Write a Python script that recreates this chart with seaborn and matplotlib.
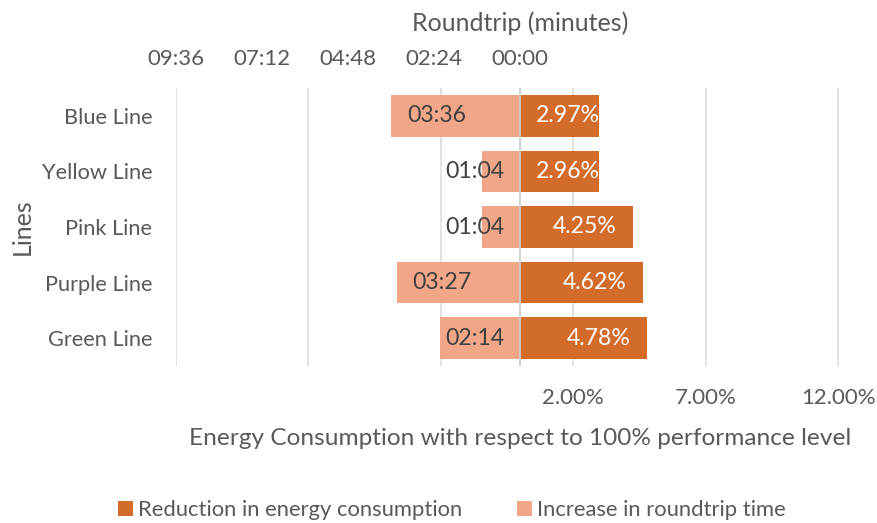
import matplotlib
matplotlib.use("Agg")
import matplotlib.pyplot as plt
from matplotlib.patches import Patch
import seaborn as sns
import pandas as pd

# ---------------- data ----------------
lines = ["Blue Line", "Yellow Line", "Pink Line", "Purple Line", "Green Line"]
energy_reduction_pct = [2.97, 2.96, 4.25, 4.62, 4.78]
roundtrip_increase_sec = [216, 64, 64, 207, 134]
energy_ticks = [-13, -8, -3, 2, 7, 12]
energy_tick_labels = ["", "", "", "2.00%", "7.00%", "12.00%"]
time_ticks_sec = [0, 144, 288, 432, 576]
time_tick_labels = ["00:00", "02:24", "04:48", "07:12", "09:36"]
series_names = ["Reduction in energy consumption", "Increase in roundtrip time"]

# ---------------- style ----------------
DARK = "#D36B2B"
LIGHT = "#F1A687"
GRID = "#D9D9D9"
AXLINE = "#CFCFCF"
TXT = "#595959"
LBL = "#404040"
FS_TITLE = 18
FS_XLAB = 17.6
FS_CAT = 15.7
FS_LEG = 15.8
FS_NUM = 16
FS_DATA = 16.6

sns.set_theme(style="white")
plt.rcParams["font.family"] = ["Lato", "DejaVu Sans"]

df = pd.DataFrame({"line": lines,
                   "energy": energy_reduction_pct,
                   "time": roundtrip_increase_sec})

W, H = 878, 523
fig = plt.figure(figsize=(W / 100, H / 100), dpi=100)
px0, px1, py0, py1 = 176, 864.5, 88, 366
ax = fig.add_axes([px0 / W, 1 - py1 / H, (px1 - px0) / W, (py1 - py0) / H])

sns.barplot(data=df, x="energy", y="line", ax=ax, color=DARK, saturation=1,
            width=0.75, errorbar=None, orient="h", linewidth=0, zorder=2)
ax.set_xlim(-13, 13)

ax2 = ax.twiny()
sns.barplot(data=df, x="time", y="line", ax=ax2, color=LIGHT, saturation=1,
            width=0.75, errorbar=None, orient="h", linewidth=0, zorder=2)
tmax = time_ticks_sec[-1]
ax2.set_xlim(tmax, -tmax)
ax.set_ylim(len(lines) - 0.5, -0.5)

# gridlines (bottom axis)
ax.set_xticks(energy_ticks)
ax.set_xticklabels(energy_tick_labels)
ax.xaxis.grid(True, color=GRID, linewidth=1.1)
ax.yaxis.grid(False)
ax.set_axisbelow(True)
ax2.xaxis.grid(False)
ax2.axvline(0, color=AXLINE, linewidth=1.3, zorder=5)

ax2.set_xticks(time_ticks_sec)
ax2.set_xticklabels(time_tick_labels)

for a in (ax, ax2):
    for s in a.spines.values():
        s.set_visible(False)
    a.tick_params(length=0, colors=TXT)

ax.tick_params(axis="x", labelsize=FS_NUM, pad=16)
ax2.tick_params(axis="x", labelsize=FS_NUM, pad=14)
ax.tick_params(axis="y", labelsize=FS_CAT, pad=17)

# axis titles
def yax(row):
    return (py1 - row) / (py1 - py0)

ax.set_xlabel("Energy Consumption with respect to 100% performance level",
              fontsize=FS_XLAB, color=TXT)
ax.xaxis.set_label_coords(0.5, yax(445))
ax.xaxis.label.set_va("baseline")
ax2.set_xlabel("Roundtrip (minutes)", fontsize=FS_TITLE, color=TXT)
ax2.xaxis.set_label_coords(0.5, yax(31))
ax2.xaxis.label.set_va("baseline")
ax.set_ylabel("Lines", fontsize=FS_TITLE, color=TXT)
ax.yaxis.set_label_coords((30 - px0) / (px1 - px0), 0.5)
ax.yaxis.label.set_va("baseline")
ax2.set_ylabel("")

# data labels (inside end, pushed out from the base if the bar is short)
fig.canvas.draw()
rend = fig.canvas.get_renderer()
PAD = 16

def px_len(a, v):
    return abs(a.transData.transform((v, 0))[0] - a.transData.transform((0, 0))[0])

for i, v in enumerate(energy_reduction_pct):
    lab = f"{v:.2f}%"
    t = ax.annotate(lab, xy=(v, i), xytext=(-PAD, 0), textcoords="offset pixels",
                    ha="right", va="center", color="white", fontsize=FS_DATA, zorder=6)
    w = t.get_window_extent(rend).width
    if px_len(ax, v) < w + 2 * PAD:
        t.remove()
        ax.annotate(lab, xy=(0, i), xytext=(PAD, 0), textcoords="offset pixels",
                    ha="left", va="center", color="white", fontsize=FS_DATA, zorder=6)

for i, v in enumerate(roundtrip_increase_sec):
    lab = f"{v // 60:02d}:{v % 60:02d}"
    t = ax2.annotate(lab, xy=(v, i), xytext=(PAD, 0), textcoords="offset pixels",
                     ha="left", va="center", color=LBL, fontsize=FS_DATA, zorder=6)
    w = t.get_window_extent(rend).width
    if px_len(ax2, v) < w + 2 * PAD:
        t.remove()
        ax2.annotate(lab, xy=(0, i), xytext=(-PAD, 0), textcoords="offset pixels",
                     ha="right", va="center", color=LBL, fontsize=FS_DATA, zorder=6)

# legend
handles = [Patch(facecolor=DARK, edgecolor="none"), Patch(facecolor=LIGHT, edgecolor="none")]
fig.legend(handles, series_names, loc="center", bbox_to_anchor=(452 / W, 1 - 510 / H),
           ncol=2, frameon=False, fontsize=FS_LEG, labelcolor=TXT,
           handlelength=0.68, handleheight=0.68, handletextpad=0.23,
           columnspacing=2.5, borderpad=0)

fig.savefig("out.png", dpi=100)
